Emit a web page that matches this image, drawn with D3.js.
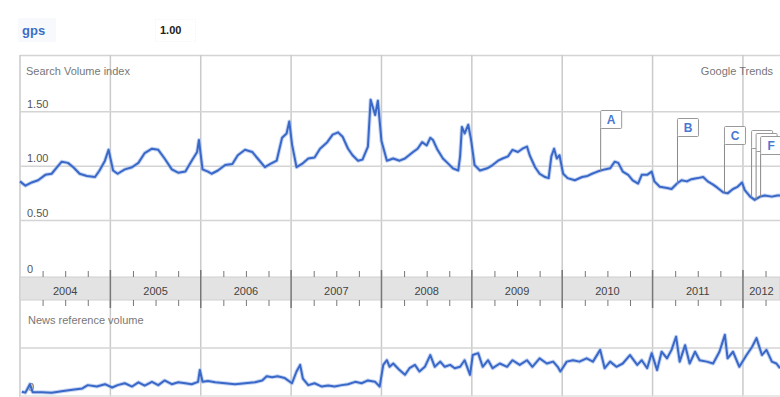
<!DOCTYPE html>
<html>
<head>
<meta charset="utf-8">
<script src="https://cdn.jsdelivr.net/npm/d3@7"></script>
<style>
  body { margin: 0; background: #fff; }
  svg { display: block; font-family: Arial, "Liberation Sans", sans-serif; }
</style>
</head>
<body>
<div id="chart"></div>
<script>
// Search volume index (time as fractional year)
const searchTimes = [
  2004.00, 2004.06, 2004.13, 2004.20, 2004.28, 2004.35, 2004.41, 2004.46, 2004.53, 2004.59, 2004.66, 2004.74, 2004.83, 2004.88, 2004.94, 2004.98,
  2005.03, 2005.08, 2005.16, 2005.24, 2005.31, 2005.38, 2005.46, 2005.53, 2005.60, 2005.68, 2005.75, 2005.83, 2005.90, 2005.96, 2005.98,
  2006.02, 2006.08, 2006.12, 2006.19, 2006.27, 2006.35, 2006.41, 2006.49, 2006.57, 2006.63, 2006.71, 2006.77, 2006.84, 2006.90, 2006.95, 2006.98,
  2007.01, 2007.06, 2007.12, 2007.19, 2007.26, 2007.32, 2007.40, 2007.46, 2007.52, 2007.57, 2007.63, 2007.68, 2007.74, 2007.79, 2007.85, 2007.88, 2007.93, 2007.96,
  2008.00, 2008.06, 2008.13, 2008.20, 2008.26, 2008.29, 2008.35, 2008.40, 2008.45, 2008.50, 2008.54, 2008.57, 2008.62, 2008.68, 2008.73, 2008.79, 2008.85, 2008.87, 2008.89, 2008.92, 2008.96, 2008.99,
  2009.03, 2009.09, 2009.17, 2009.23, 2009.29, 2009.34, 2009.40, 2009.45, 2009.51, 2009.56, 2009.61, 2009.64, 2009.70, 2009.75, 2009.81, 2009.85, 2009.88, 2009.91, 2009.94, 2009.97,
  2010.01, 2010.06, 2010.14, 2010.22, 2010.28, 2010.33, 2010.39, 2010.47, 2010.53, 2010.58, 2010.62, 2010.67, 2010.73, 2010.78, 2010.84, 2010.88, 2010.94, 2010.99,
  2011.02, 2011.08, 2011.16, 2011.21, 2011.27, 2011.32, 2011.38, 2011.43, 2011.50, 2011.56, 2011.61, 2011.67, 2011.72, 2011.78, 2011.83, 2011.89, 2011.94, 2011.99,
  2012.02, 2012.08, 2012.13, 2012.19, 2012.24, 2012.32, 2012.38, 2012.41
];
const searchValues = [
  0.86, 0.82, 0.85, 0.87, 0.92, 0.93, 0.99, 1.04, 1.03, 0.99, 0.93, 0.91, 0.90, 0.96, 1.05, 1.15,
  0.96, 0.93, 0.97, 0.99, 1.03, 1.12, 1.16, 1.15, 1.07, 0.97, 0.94, 0.95, 1.05, 1.13, 1.24,
  0.97, 0.95, 0.93, 0.96, 1.01, 1.02, 1.10, 1.15, 1.13, 1.07, 0.99, 1.02, 1.05, 1.26, 1.30, 1.41,
  1.20, 0.99, 1.02, 1.07, 1.08, 1.16, 1.22, 1.29, 1.31, 1.27, 1.16, 1.10, 1.05, 1.06, 1.18, 1.61, 1.47, 1.60,
  1.23, 1.05, 1.07, 1.05, 1.07, 1.09, 1.13, 1.16, 1.22, 1.19, 1.26, 1.24, 1.15, 1.07, 1.03, 0.98, 0.96, 1.09, 1.36, 1.30, 1.38, 1.25,
  1.01, 0.96, 0.98, 1.01, 1.05, 1.07, 1.09, 1.15, 1.13, 1.16, 1.18, 1.10, 0.99, 0.93, 0.90, 0.89, 1.09, 1.16, 1.07, 1.10,
  0.93, 0.89, 0.87, 0.90, 0.91, 0.93, 0.95, 0.97, 0.98, 1.04, 1.03, 0.95, 0.92, 0.87, 0.84, 0.92, 0.92, 0.95,
  0.86, 0.81, 0.80, 0.79, 0.84, 0.87, 0.86, 0.88, 0.89, 0.90, 0.86, 0.83, 0.80, 0.76, 0.75, 0.79, 0.81, 0.85,
  0.78, 0.72, 0.69, 0.72, 0.73, 0.72, 0.73, 0.73
];

// News reference volume (relative units)
const newsTimes = [
  2004.02, 2004.06, 2004.11, 2004.14, 2004.24, 2004.35, 2004.46, 2004.58, 2004.69, 2004.75, 2004.85, 2004.94,
  2005.02, 2005.08, 2005.16, 2005.24, 2005.31, 2005.38, 2005.46, 2005.53, 2005.60, 2005.68, 2005.75, 2005.83, 2005.90, 2005.97, 2005.99,
  2006.02, 2006.08, 2006.16, 2006.27, 2006.38, 2006.49, 2006.60, 2006.68, 2006.73, 2006.79, 2006.85, 2006.93,
  2007.01, 2007.06, 2007.10, 2007.13, 2007.19, 2007.26, 2007.34, 2007.41, 2007.48, 2007.56, 2007.63, 2007.71, 2007.78, 2007.85, 2007.93, 2007.98,
  2008.02, 2008.06, 2008.09, 2008.13, 2008.18, 2008.20, 2008.26, 2008.31, 2008.37, 2008.42, 2008.48, 2008.54, 2008.59, 2008.65, 2008.70, 2008.76, 2008.81, 2008.87, 2008.92, 2008.98,
  2009.01, 2009.07, 2009.12, 2009.18, 2009.23, 2009.31, 2009.39, 2009.45, 2009.53, 2009.61, 2009.67, 2009.75, 2009.83, 2009.90, 2009.95, 2009.98,
  2010.05, 2010.12, 2010.19, 2010.27, 2010.34, 2010.42, 2010.47, 2010.53, 2010.60, 2010.67, 2010.75, 2010.83, 2010.88, 2010.94, 2010.99,
  2011.05, 2011.10, 2011.16, 2011.21, 2011.26, 2011.30, 2011.36, 2011.41, 2011.47, 2011.52, 2011.60, 2011.67, 2011.74, 2011.80, 2011.83, 2011.89, 2011.96,
  2012.04, 2012.10, 2012.15, 2012.21, 2012.26, 2012.32, 2012.37, 2012.41
];
const newsValues = [
  0.07, 0.05, 0.23, 0.06, 0.06, 0.05, 0.08, 0.11, 0.14, 0.21, 0.18, 0.23,
  0.16, 0.21, 0.25, 0.18, 0.27, 0.20, 0.28, 0.21, 0.31, 0.23, 0.27, 0.25, 0.23, 0.28, 0.53,
  0.28, 0.30, 0.27, 0.25, 0.23, 0.25, 0.27, 0.31, 0.40, 0.38, 0.40, 0.36,
  0.25, 0.50, 0.64, 0.35, 0.21, 0.25, 0.18, 0.20, 0.18, 0.21, 0.23, 0.28, 0.25, 0.31, 0.28, 0.18,
  0.64, 0.74, 0.60, 0.67, 0.57, 0.53, 0.43, 0.57, 0.64, 0.50, 0.60, 0.85, 0.60, 0.71, 0.60, 0.64, 0.57, 0.60, 0.74, 0.43,
  0.85, 0.89, 0.60, 0.74, 0.57, 0.67, 0.60, 0.74, 0.64, 0.74, 0.60, 0.78, 0.67, 0.71, 0.60, 0.50,
  0.71, 0.74, 0.71, 0.78, 0.71, 0.96, 0.57, 0.71, 0.60, 0.67, 0.85, 0.64, 0.74, 0.57, 0.89,
  0.53, 0.92, 0.78, 0.96, 1.24, 0.71, 1.06, 0.67, 0.92, 0.74, 0.71, 0.67, 0.92, 1.28, 0.78, 0.92, 0.60,
  0.85, 1.02, 1.21, 0.85, 0.96, 0.71, 0.67, 0.57
];

const years = [2004, 2005, 2006, 2007, 2008, 2009, 2010, 2011, 2012];
const yTicks = [0, 0.5, 1.0, 1.5];
const flagLabels = ["A", "B", "C", "D", "E", "F"];
const flagTimes = [2010.42, 2011.27, 2011.79, 2012.09, 2012.14, 2012.19];

const width = 780, height = 397;
const left = 20, right = 780;
const endTime = 2012.41;

const svg = d3.select("#chart")
  .append("svg")
  .attr("width", width)
  .attr("height", height);

const x = d3.scaleLinear().domain([2004, endTime]).range([left, right]);
const y = d3.scaleLinear().domain([0, 1.5]).range([275, 111.7]);
const yNews = d3.scaleLinear().domain([0, 1]).range([395, 348]);

const gridColor = "#d4d4d4";
const lineColor = "#3a68c8";

// Header
svg.append("rect")
  .attr("x", 18).attr("y", 18).attr("width", 38).attr("height", 24)
  .attr("fill", "#f7f9fc");
svg.append("text")
  .attr("x", 22).attr("y", 35)
  .attr("font-size", "13px").attr("font-weight", "bold")
  .attr("fill", "#3b6fc4")
  .text("gps");
svg.append("rect")
  .attr("x", 155.5).attr("y", 19.5).attr("width", 40).attr("height", 22)
  .attr("fill", "none").attr("stroke", "#f0f0f0").attr("stroke-dasharray", "1,2");
svg.append("text")
  .attr("x", 160).attr("y", 34)
  .attr("font-size", "11px").attr("font-weight", "bold")
  .attr("fill", "#222")
  .text("1.00");

// Frame top border
svg.append("line")
  .attr("x1", left).attr("x2", right).attr("y1", 55.5).attr("y2", 55.5)
  .attr("stroke", gridColor).attr("stroke-width", 1.5);

// Vertical gridlines (year boundaries), both panels
svg.append("g").selectAll("line")
  .data(years)
  .enter().append("line")
  .attr("x1", d => x(d)).attr("x2", d => x(d))
  .attr("y1", 55).attr("y2", height)
  .attr("stroke", "#cacaca").attr("stroke-width", 1.5);

// Horizontal gridlines, search panel
svg.append("g").selectAll("line")
  .data(yTicks.filter(d => d > 0))
  .enter().append("line")
  .attr("x1", left).attr("x2", right)
  .attr("y1", d => y(d)).attr("y2", d => y(d))
  .attr("stroke", gridColor).attr("stroke-width", 1.5);

// Y labels
svg.append("g").selectAll("text")
  .data(yTicks)
  .enter().append("text")
  .attr("x", 27)
  .attr("y", d => y(d) - (d === 0 ? 2 : 4))
  .attr("font-size", "11px")
  .attr("fill", "#555")
  .text(d => d === 0 ? "0" : d.toFixed(2));

svg.append("text")
  .attr("x", 26).attr("y", 75)
  .attr("font-size", "11px").attr("fill", "#777")
  .text("Search Volume index");
svg.append("text")
  .attr("x", 773).attr("y", 75)
  .attr("text-anchor", "end")
  .attr("font-size", "11px").attr("fill", "#777")
  .text("Google Trends");

// Year band
svg.append("rect")
  .attr("x", left).attr("y", 277).attr("width", right - left).attr("height", 23)
  .attr("fill", "#e3e3e3").attr("stroke", "#d0d0d0");

const quarters = [];
years.forEach(yr => [0.25, 0.5, 0.75].forEach(q => { if (yr + q < endTime) quarters.push(yr + q); }));

svg.append("g")
  .attr("transform", "translate(0,277)")
  .call(d3.axisTop(x).tickValues(quarters).tickSize(6).tickFormat(""))
  .call(g => g.select(".domain").remove())
  .call(g => g.selectAll("line").attr("stroke", "#777"));
svg.append("g")
  .attr("transform", "translate(0,300)")
  .call(d3.axisBottom(x).tickValues(quarters).tickSize(6).tickFormat(""))
  .call(g => g.select(".domain").remove())
  .call(g => g.selectAll("line").attr("stroke", "#777"));

svg.append("g").selectAll("line")
  .data(years.filter(d => d > 2004))
  .enter().append("line")
  .attr("x1", d => x(d)).attr("x2", d => x(d))
  .attr("y1", 270).attr("y2", 308)
  .attr("stroke", "#777").attr("stroke-width", 1.5);

svg.append("g").selectAll("text")
  .data(years)
  .enter().append("text")
  .attr("x", d => (x(d) + x(Math.min(d + 1, endTime))) / 2)
  .attr("y", 295)
  .attr("text-anchor", "middle")
  .attr("font-size", "11px")
  .attr("fill", "#444")
  .text(d => d);

// News panel
svg.append("text")
  .attr("x", 28).attr("y", 324)
  .attr("font-size", "11px").attr("fill", "#777")
  .text("News reference volume");
svg.append("line")
  .attr("x1", left).attr("x2", right).attr("y1", yNews(1)).attr("y2", yNews(1))
  .attr("stroke", gridColor).attr("stroke-width", 1.5);
svg.append("line")
  .attr("x1", left).attr("x2", right).attr("y1", 396).attr("y2", 396)
  .attr("stroke", "#e0e0e0").attr("stroke-width", 1.5);
svg.append("text")
  .attr("x", 28).attr("y", 391)
  .attr("font-size", "11px").attr("fill", "#555")
  .text("0");

// Lines
const searchData = searchTimes.map((t, i) => ({ t, v: searchValues[i] }));
const newsData = newsTimes.map((t, i) => ({ t, v: newsValues[i] }));

const searchLine = d3.line().x(d => x(d.t)).y(d => y(d.v));
const newsLine = d3.line().x(d => x(d.t)).y(d => yNews(d.v));

[[searchData, searchLine], [newsData, newsLine]].forEach(([data, gen]) => {
  svg.append("path")
    .datum(data)
    .attr("fill", "none")
    .attr("stroke", "#9db8ea")
    .attr("stroke-opacity", 0.6)
    .attr("stroke-width", 4)
    .attr("stroke-linejoin", "round")
    .attr("d", gen);
  svg.append("path")
    .datum(data)
    .attr("fill", "none")
    .attr("stroke", lineColor)
    .attr("stroke-width", 2)
    .attr("stroke-linejoin", "round")
    .attr("d", gen);
});

// Event flags
const bisect = d3.bisector(d => d.t).left;
function valueAt(t) {
  const i = Math.max(1, Math.min(searchData.length - 1, bisect(searchData, t)));
  const a = searchData[i - 1], b = searchData[i];
  return a.v + (b.v - a.v) * (t - a.t) / (b.t - a.t);
}
const flagTop = [110, 118, 126, 130, 133, 136];
const boxW = 21;

const flags = svg.append("g").selectAll("g")
  .data(flagLabels)
  .enter().append("g");

flags.append("line")
  .attr("x1", (d, i) => x(flagTimes[i]) + 0.5)
  .attr("x2", (d, i) => x(flagTimes[i]) + 0.5)
  .attr("y1", (d, i) => flagTop[i] + 18)
  .attr("y2", (d, i) => y(valueAt(flagTimes[i])))
  .attr("stroke", "#888").attr("stroke-width", 1);

flags.append("rect")
  .attr("x", (d, i) => x(flagTimes[i]) + 0.5)
  .attr("y", (d, i) => flagTop[i] + 0.5)
  .attr("width", boxW).attr("height", 18)
  .attr("rx", 1)
  .attr("fill", "#fff")
  .attr("stroke", "#999");

// a letter is only drawn when the next flag's box does not cover it
flags.filter((d, i) => i === flagLabels.length - 1 || x(flagTimes[i + 1]) - x(flagTimes[i]) > boxW)
  .append("text")
  .attr("x", d => x(flagTimes[flagLabels.indexOf(d)]) + 11)
  .attr("y", d => flagTop[flagLabels.indexOf(d)] + 14)
  .attr("text-anchor", "middle")
  .attr("font-size", "12px").attr("font-weight", "bold")
  .attr("fill", "#4a78d0")
  .text(d => d);
</script>
</body>
</html>
